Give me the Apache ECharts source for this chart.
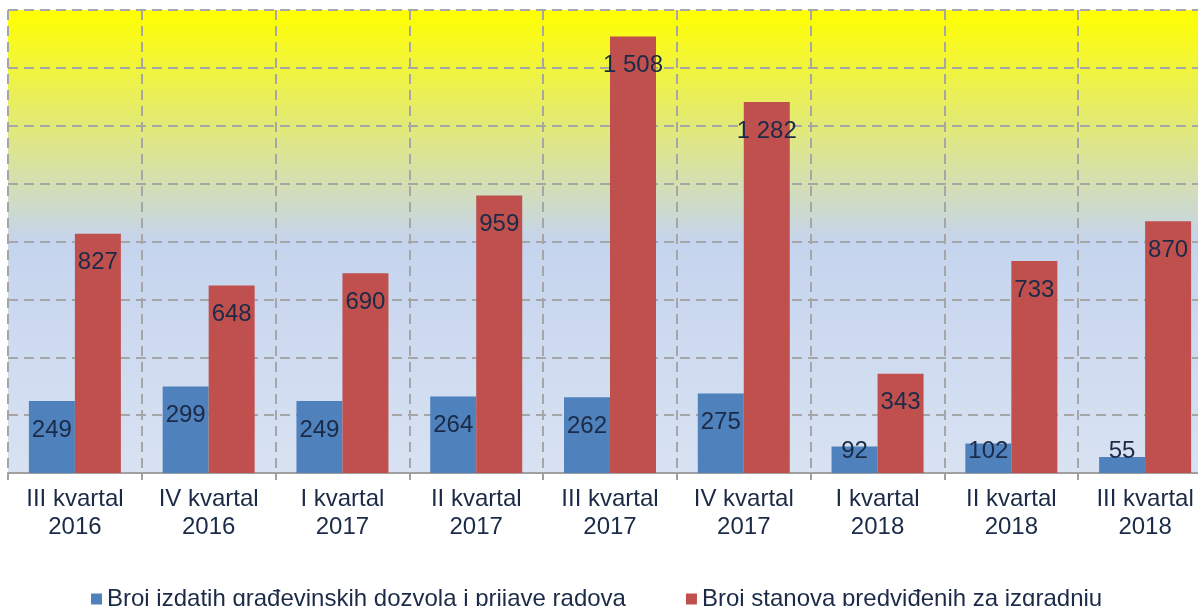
<!DOCTYPE html>
<html>
<head>
<meta charset="utf-8">
<script src="https://cdn.jsdelivr.net/npm/echarts@6/dist/echarts.min.js"></script>
<style>
  html, body { margin: 0; padding: 0; background: #fff; overflow: hidden; }
  #chart { width: 1198px; height: 606px; }
</style>
</head>
<body>
<div id="chart"></div>
<script>
const categories = [
  'III kvartal\n2016', 'IV kvartal\n2016', 'I kvartal\n2017', 'II kvartal\n2017',
  'III kvartal\n2017', 'IV kvartal\n2017', 'I kvartal\n2018', 'II kvartal\n2018', 'III kvartal\n2018'
];
const dozvole = [249, 299, 249, 264, 262, 275, 92, 102, 55];
const stanovi = [827, 648, 690, 959, 1508, 1282, 343, 733, 870];
const seriesNames = ['Broj izdatih građevinskih dozvola i prijave radova', 'Broj stanova predviđenih za izgradnju'];

const textColor = '#1b2a47';
const font = 'Liberation Sans, Arial';
const fmt = (v) => String(v).replace(/\B(?=(\d{3})+(?!\d))/g, ' ');

// small bars: label sits near the bottom instead of inside top
function withLabels(values) {
  return values.map((v) => {
    if (v < 150) {
      return { value: v, label: { position: 'insideBottom', distance: 10 } };
    }
    return v;
  });
}

const chart = echarts.init(document.getElementById('chart'));
const option = {
  backgroundColor: '#fff',
  animation: false,
  grid: {
    left: 8,
    right: -14, // last category is cut off by the picture edge
    top: 10,
    bottom: 133,
    outerBoundsMode: 'none',
    containLabel: false,
    show: true,
    borderWidth: 0,
    backgroundColor: new echarts.graphic.LinearGradient(0, 0, 0, 1, [
      { offset: 0, color: '#ffff00' },
      { offset: 0.5, color: '#c5d4ee' },
      { offset: 1, color: '#d8e2f2' }
    ])
  },
  legend: {
    left: 86,
    top: 582,
    itemWidth: 11,
    itemHeight: 11,
    itemGap: 60,
    icon: 'rect',
    textStyle: { color: textColor, fontSize: 24, fontFamily: font },
    data: seriesNames
  },
  xAxis: {
    type: 'category',
    data: categories,
    boundaryGap: true,
    axisLine: { lineStyle: { color: '#a0a0a0', width: 2 } },
    axisTick: { show: true, length: 7, lineStyle: { color: '#a0a0a0', width: 2 } },
    axisLabel: {
      color: textColor,
      fontSize: 24,
      lineHeight: 28,
      margin: 12,
      fontFamily: font,
      interval: 0
    },
    splitLine: { show: true, lineStyle: { color: '#a6a6a6', width: 2, type: [10, 6] } }
  },
  yAxis: {
    type: 'value',
    min: 0,
    max: 1600,
    interval: 200,
    axisLine: { show: false },
    axisTick: { show: false },
    axisLabel: { show: false },
    splitLine: { show: true, lineStyle: { color: '#a6a6a6', width: 2, type: [10, 6] } }
  },
  series: [
    {
      name: seriesNames[0],
      type: 'bar',
      barWidth: 46,
      barGap: '0%',
      itemStyle: { color: '#4f81bd' },
      label: {
        show: true,
        position: 'insideTop',
        distance: 17,
        color: textColor,
        fontSize: 24,
        fontFamily: font,
        formatter: (p) => fmt(p.value)
      },
      data: withLabels(dozvole)
    },
    {
      name: seriesNames[1],
      type: 'bar',
      barWidth: 46,
      barGap: '0%',
      itemStyle: { color: '#c0504d' },
      label: {
        show: true,
        position: 'insideTop',
        distance: 17,
        color: textColor,
        fontSize: 24,
        fontFamily: font,
        formatter: (p) => fmt(p.value)
      },
      data: withLabels(stanovi)
    }
  ]
};
chart.setOption(option);
</script>
</body>
</html>
